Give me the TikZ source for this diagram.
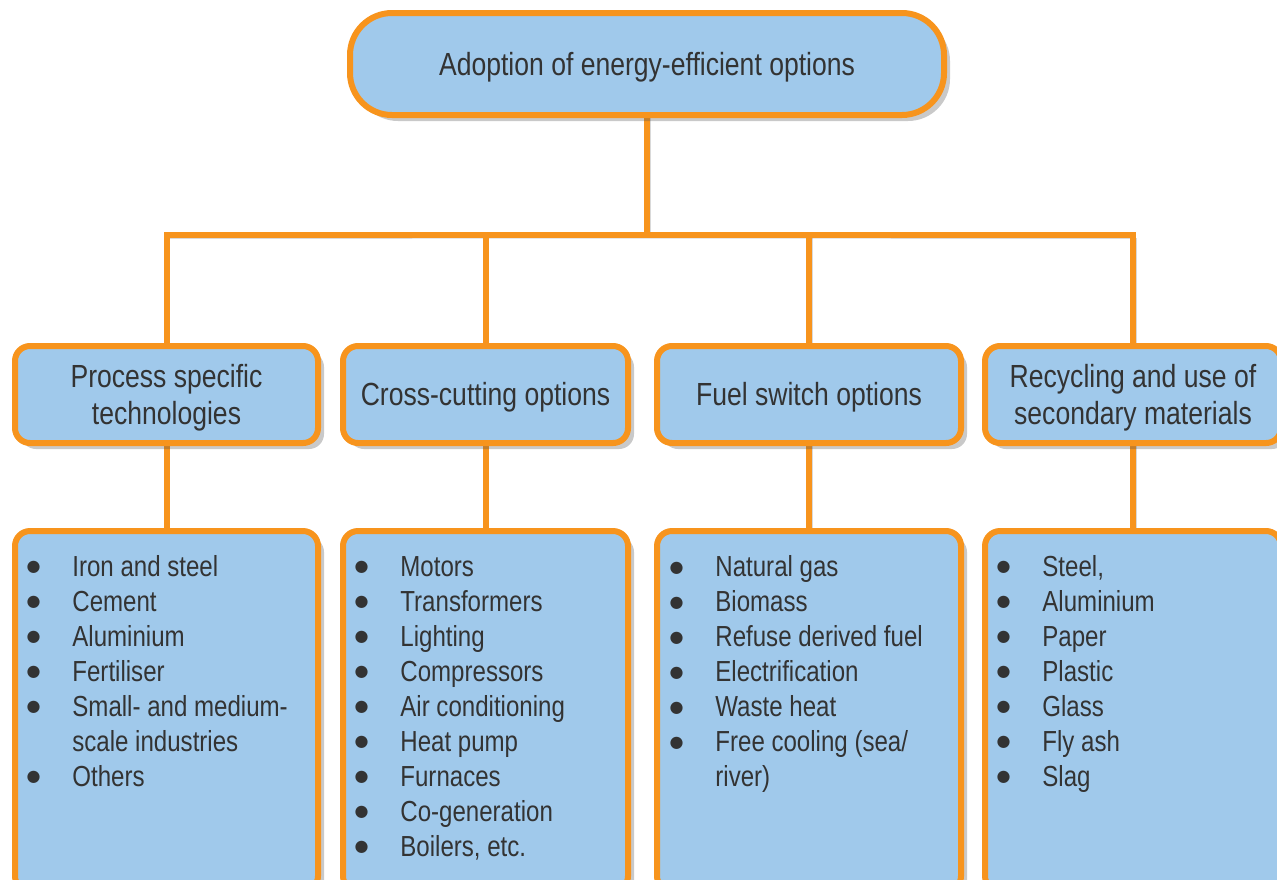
\documentclass[tikz,border=0pt]{standalone}
\usepackage{fontspec}
\setmainfont[FakeStretch=0.83]{Liberation Sans}
\newfontfamily\dotfont{DejaVu Sans}
\usetikzlibrary{shadows,backgrounds}

\definecolor{boxblue}{HTML}{A0C9EB}
\definecolor{lineorange}{HTML}{F7941D}
\definecolor{textgray}{HTML}{333333}

\newcommand{\itm}[1]{\makebox[22.9pt][l]{\raisebox{2.4pt}{\dotfont\fontsize{8}{8}\selectfont ●}}#1}
\newcommand{\cont}[1]{\hspace*{22.9pt}#1}
\newcommand{\hstrut}{\rule{0pt}{14.7pt}}

\begin{document}
\begin{tikzpicture}[x=0.5pt, y=-0.5pt,
	box/.style={draw=lineorange, fill=boxblue, line width=3pt, rounded corners=7.5pt,
		outer sep=0pt, text=textgray,
		drop shadow={shadow xshift=3pt, shadow yshift=-3pt, opacity=0.3, fill=black!70}},
	head/.style={box, align=center, font=\fontsize{16}{18.5}\selectfont},
	listbox/.style={box, minimum height=180pt},
	list/.style={anchor=north west, align=left, inner sep=0pt, text=textgray,
		font=\fontsize{14.5}{17.5}\selectfont},
	link/.style={draw=lineorange, line width=3pt,
		preaction={draw=black, opacity=0.15, transform canvas={shift={(1.5pt,-1.5pt)}}}}]

	\useasboundingbox (0, 0) rectangle (1277, 879);
	\clip (0, 0) rectangle (1277, 879);

	\node[head, rounded corners=21pt, minimum width=297pt, minimum height=51pt,
		font=\fontsize{16}{19}\selectfont] (top) at (647, 64) {\hstrut Adoption of energy-efficient options};

	\node[head, minimum width=151.5pt, minimum height=48.5pt] (m1) at (166.5, 394.5) {\hstrut Process specific\\technologies};
	\node[head, minimum width=142.5pt, minimum height=48.5pt] (m2) at (485.5, 394.5) {\hstrut Cross-cutting options};
	\node[head, minimum width=152pt, minimum height=48.5pt]   (m3) at (809, 394.5)   {\hstrut Fuel switch options};
	\node[head, minimum width=148pt, minimum height=48.5pt]   (m4) at (1133, 394.5)  {\hstrut Recycling and use of\\secondary materials};

	\node[listbox, minimum width=151.5pt] (b1) at (166.5, 711) {};
	\node[listbox, minimum width=142.5pt] (b2) at (485.5, 711) {};
	\node[listbox, minimum width=152pt]   (b3) at (809, 711)   {};
	\node[listbox, minimum width=148pt]   (b4) at (1133, 711)  {};

	\node[list] (l1) at ([xshift=5.6pt, yshift=-10.25pt]b1.north west)
		{\itm{Iron and steel}\strut\\ \itm{Cement}\\ \itm{Aluminium}\\ \itm{Fertiliser}\\
		 \itm{Small- and medium-}\\ \cont{scale industries}\\ \itm{Others}};
	\node[list] (l2) at ([xshift=5.6pt, yshift=-10.25pt]b2.north west)
		{\itm{Motors}\strut\\ \itm{Transformers}\\ \itm{Lighting}\\ \itm{Compressors}\\
		 \itm{Air conditioning}\\ \itm{Heat pump}\\ \itm{Furnaces}\\ \itm{Co-generation}\\
		 \itm{Boilers, etc.}};
	\node[list] (l3) at ([xshift=6.1pt, yshift=-10.5pt]b3.north west)
		{\itm{Natural gas}\strut\\ \itm{Biomass}\\ \itm{Refuse derived fuel}\\ \itm{Electrification}\\
		 \itm{Waste heat}\\ \itm{Free cooling (sea/}\\ \cont{river)}};
	\node[list] (l4) at ([xshift=5.6pt, yshift=-10.25pt]b4.north west)
		{\itm{Steel,}\strut\\ \itm{Aluminium}\\ \itm{Paper}\\ \itm{Plastic}\\
		 \itm{Glass}\\ \itm{Fly ash}\\ \itm{Slag}};

	\begin{pgfonlayer}{background}
		\coordinate (bus) at (647, 235);
		\draw[link] (top.south) -- (bus);
		\draw[link] (m1.north) |- (bus) -| (m4.north);
		\draw[link] (m2.north) -- (m2.north |- bus);
		\draw[link] (m3.north) -- (m3.north |- bus);
		\foreach \i in {1,...,4}
			\draw[link] (m\i.south) -- (b\i.north);
	\end{pgfonlayer}
\end{tikzpicture}
\end{document}
